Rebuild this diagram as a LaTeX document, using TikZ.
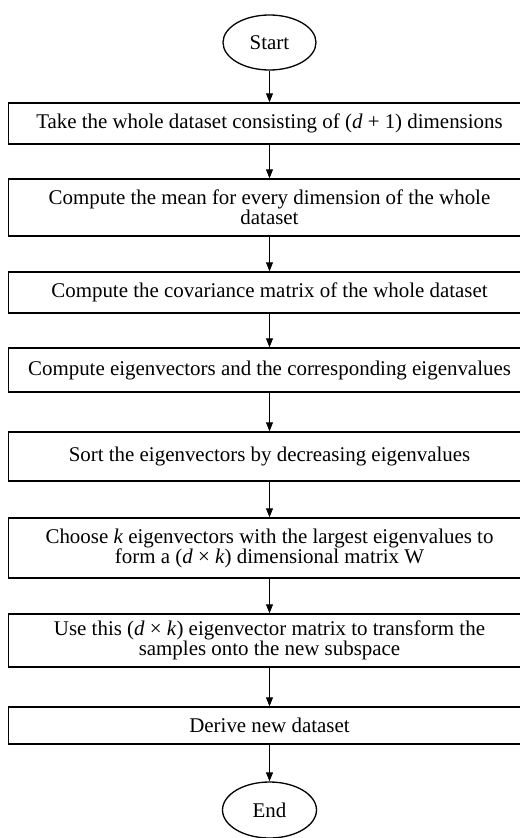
\documentclass[tikz,border=0pt]{standalone}
\usepackage{fontspec}
\setmainfont{Liberation Serif}
\usetikzlibrary{arrows.meta,shapes.geometric}
\begin{document}
\begin{tikzpicture}[x=1bp,y=-1bp,
  stepbox/.style={draw,line width=1.4bp,rectangle,minimum width=522bp,inner sep=0pt,align=center,font=\fontsize{21}{20}\selectfont},
  term/.style={draw,line width=1.3bp,ellipse,inner sep=0pt,font=\fontsize{21}{20}\selectfont},
  arr/.style={line width=0.9bp,-{Triangle[width=7bp,length=9bp]}}]
\clip (0,0) rectangle (520,838);
\fill[white] (0,0) rectangle (520,838);
\node[term,minimum width=93bp,minimum height=55bp] (start) at (269.5,42.5) {Start};
\node[stepbox,minimum height=41bp] (b1) at (269.5,123.5) {Take the whole dataset consisting of (\textit{d} + 1) dimensions};
\node[stepbox,minimum height=57bp] (b2) at (269.5,207.5) {Compute the mean for every dimension of the whole\\dataset};
\node[stepbox,minimum height=41bp] (b3) at (269.5,292.5) {Compute the covariance matrix of the whole dataset};
\node[stepbox,minimum height=44bp] (b4) at (269.5,370) {Compute eigenvectors and the corresponding eigenvalues};
\node[stepbox,minimum height=49bp] (b5) at (269.5,456.5) {Sort the eigenvectors by decreasing eigenvalues};
\node[stepbox,minimum height=60bp] (b6) at (269.5,548) {Choose \textit{k} eigenvectors with the largest eigenvalues to\\form a (\textit{d} × \textit{k}) dimensional matrix W};
\node[stepbox,minimum height=53bp] (b7) at (269.5,640.5) {Use this (\textit{d} × \textit{k}) eigenvector matrix to transform the\\samples onto the new subspace};
\node[stepbox,minimum height=37bp] (b8) at (269.5,725.5) {Derive new dataset};
\node[term,minimum width=94bp,minimum height=56bp] (end) at (269.5,810) {End};
\draw[arr] (start) -- (b1);
\draw[arr] (b1) -- (b2);
\draw[arr] (b2) -- (b3);
\draw[arr] (b3) -- (b4);
\draw[arr] (b4) -- (b5);
\draw[arr] (b5) -- (b6);
\draw[arr] (b6) -- (b7);
\draw[arr] (b7) -- (b8);
\draw[arr] (b8) -- (end);
\end{tikzpicture}
\end{document}
